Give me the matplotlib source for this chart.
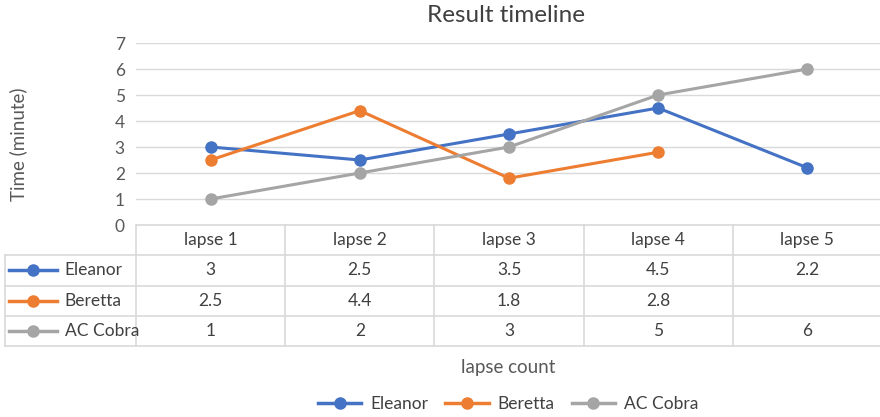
import matplotlib
matplotlib.use('Agg')
import matplotlib.pyplot as plt
from matplotlib.lines import Line2D

plt.rcParams['font.family'] = ['Lato', 'DejaVu Sans']

# data
laps = ['lapse 1', 'lapse 2', 'lapse 3', 'lapse 4', 'lapse 5']
series_names = ['Eleanor', 'Beretta', 'AC Cobra']
eleanor = [3, 2.5, 3.5, 4.5, 2.2]
beretta = [2.5, 4.4, 1.8, 2.8, None]
ac_cobra = [1, 2, 3, 5, 6]
colors = ['#4472C4', '#ED7D31', '#A5A5A5']
all_values = [eleanor, beretta, ac_cobra]

W, H = 880, 417
fig = plt.figure(figsize=(W / 100, H / 100), dpi=100)

# main plot area (pixel layout)
px_left, px_right, px_top, px_bottom = 136, 882, 43, 225
ax = fig.add_axes([px_left / W, 1 - px_bottom / H, (px_right - px_left) / W, (px_bottom - px_top) / H])
x = list(range(len(laps)))
for name, vals, c in zip(series_names, all_values, colors):
    xs = [i for i, v in zip(x, vals) if v is not None]
    ys = [v for v in vals if v is not None]
    ax.plot(xs, ys, color=c, lw=2.2, marker='o', ms=8, label=name, zorder=3, clip_on=False)

ax.set_xlim(-0.5, len(laps) - 0.5)
ax.set_ylim(0, 7)
ax.set_yticks(range(0, 8))
ax.set_xticks([])
ax.grid(axis='y', color='#d9d9d9', lw=1)
ax.set_axisbelow(True)
for s in ax.spines.values():
    s.set_visible(False)
ax.tick_params(axis='y', length=0, labelsize=12.5, labelcolor='#595959', pad=8)
fig.text(18 / W, 1 - 144 / H, 'Time (minute)', rotation=90, ha='center', va='center',
         fontsize=13.5, color='#595959')
fig.text(506 / W, 1 - 16 / H, 'Result timeline', ha='center', va='center',
         fontsize=17.5, color='#404040')

# data table below the plot, shares the category scale
tbl_left, tbl_bottom = 5, 346
unit = (px_right - px_left) / len(laps)
x0 = -0.5 - (px_left - tbl_left) / unit
tax = fig.add_axes([tbl_left / W, 1 - tbl_bottom / H, (px_right - tbl_left) / W, (tbl_bottom - px_bottom) / H])
tax.set_xlim(x0, len(laps) - 0.5)
tax.set_ylim(len(series_names) + 1, 0)
tax.axis('off')
grid_kw = dict(color='#d9d9d9', lw=1.2, clip_on=False)
# horizontal lines
tax.plot([-0.5, len(laps) - 0.5], [0, 0], **grid_kw)
for r in range(1, len(series_names) + 2):
    tax.plot([x0, len(laps) - 0.5], [r, r], **grid_kw)
# vertical lines
tax.plot([x0, x0], [1, len(series_names) + 1], **grid_kw)
for i in range(len(laps) + 1):
    tax.plot([i - 0.5, i - 0.5], [0, len(series_names) + 1], **grid_kw)

for i, lab in enumerate(laps):
    tax.text(i, 0.5, lab, ha='center', va='center', fontsize=12.5, color='#404040')
for r, (name, vals, c) in enumerate(zip(series_names, all_values, colors), start=1):
    tax.plot([x0 + 0.03, x0 + 0.35], [r + 0.5, r + 0.5], color=c, lw=2.5, clip_on=False)
    tax.plot([x0 + 0.19], [r + 0.5], 'o', color=c, ms=8, clip_on=False)
    tax.text(x0 + 0.4, r + 0.5, name, ha='left', va='center', fontsize=12.5, color='#404040')
    for i, v in enumerate(vals):
        if v is not None:
            tax.text(i, r + 0.5, f'{v:g}', ha='center', va='center', fontsize=12.5, color='#404040')

fig.text(508 / W, 1 - 367 / H, 'lapse count', ha='center', va='center', fontsize=13.5, color='#595959')

handles = [Line2D([], [], color=c, lw=2.5, marker='o', ms=8) for c in colors]
fig.legend(handles, series_names, loc='center', bbox_to_anchor=(508 / W, 1 - 404 / H), ncol=3,
           frameon=False, fontsize=12.5, handlelength=2.5, columnspacing=1.0, handletextpad=0.5,
           labelcolor='#404040')

fig.savefig('out.png', dpi=100)
